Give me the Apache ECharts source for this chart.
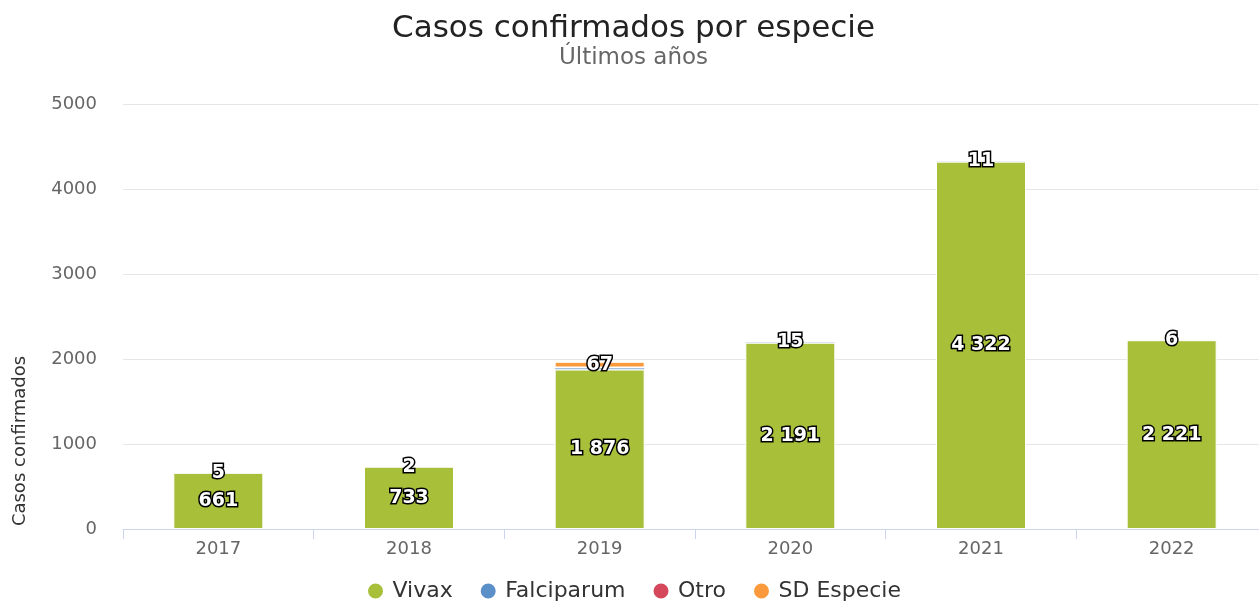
<!DOCTYPE html>
<html>
<head>
<meta charset="utf-8">
<script src="https://cdn.jsdelivr.net/npm/echarts@6/dist/echarts.min.js"></script>
<style>
html,body{margin:0;padding:0;background:#fff;overflow:hidden;}
#chart{width:1267px;height:604px;}
</style>
</head>
<body>
<div id="chart"></div>
<script>
const categories = ['2017', '2018', '2019', '2020', '2021', '2022'];
const vivax = [661, 733, 1876, 2191, 4322, 2221];
const falciparum = [5, 2, 20, 15, 11, 6];
const otro = [0, 0, 4, 0, 0, 0];
const sdEspecie = [0, 0, 67, 0, 0, 0];
const yTicks = [0, 1000, 2000, 3000, 4000, 5000];

const FONT = 'DejaVu Sans';
function fmt(v) {
  return String(v).replace(/\B(?=(\d{3})+(?!\d))/g, ' ');
}
const labelBase = {
  show: true,
  position: 'inside',
  color: '#fff',
  fontFamily: FONT,
  fontWeight: 'bold',
  fontSize: 19,
  textBorderColor: '#000',
  textBorderWidth: 3
};
const chart = echarts.init(document.getElementById('chart'), null, {renderer: 'canvas'});
chart.setOption({
  animation: false,
  textStyle: {fontFamily: FONT},
  title: {
    text: 'Casos confirmados por especie',
    subtext: 'Últimos años',
    left: 'center',
    top: 8,
    itemGap: 3,
    textStyle: {fontFamily: FONT, fontSize: 31, fontWeight: 'normal', color: '#222'},
    subtextStyle: {fontFamily: FONT, fontSize: 23, color: '#666'}
  },
  legend: {
    top: 575,
    left: 'center',
    icon: 'circle',
    itemWidth: 24,
    itemHeight: 17,
    itemGap: 26,
    textStyle: {fontFamily: FONT, fontSize: 22, color: '#333'},
    data: ['Vivax', 'Falciparum', 'Otro', 'SD Especie']
  },
  grid: {left: 123, right: 0, top: 104, bottom: 75},
  xAxis: {
    type: 'category',
    data: categories,
    axisLine: {lineStyle: {color: '#ccd6eb'}},
    axisTick: {show: true, length: 10, lineStyle: {color: '#ccd6eb'}},
    axisLabel: {color: '#666', fontSize: 18, margin: 11, fontFamily: FONT}
  },
  yAxis: {
    type: 'value',
    min: yTicks[0],
    max: yTicks[yTicks.length - 1],
    interval: 1000,
    axisLine: {show: false},
    axisTick: {show: false},
    splitLine: {lineStyle: {color: '#e6e6e6'}},
    axisLabel: {color: '#666', fontSize: 18, margin: 26, fontFamily: FONT, formatter: v => String(v)}
  },
  graphic: [{
    type: 'text',
    x: 20,
    y: 441,
    rotation: Math.PI / 2,
    style: {
      text: 'Casos confirmados',
      fontFamily: FONT,
      fontSize: 18,
      fill: '#333',
      textAlign: 'center',
      textVerticalAlign: 'middle'
    }
  }],
  series: [
    {
      name: 'Vivax', type: 'bar', stack: 'total', barWidth: 90,
      data: vivax,
      itemStyle: {color: '#a8bf3a', borderColor: '#fff', borderWidth: 1},
      label: Object.assign({}, labelBase, {formatter: p => fmt(p.value)})
    },
    {
      name: 'Falciparum', type: 'bar', stack: 'total', barWidth: 90,
      data: falciparum,
      itemStyle: {color: '#5a8fc8', borderColor: '#fff', borderWidth: 0.5},
      label: Object.assign({}, labelBase, {
        formatter: p => (p.value > 0 && sdEspecie[p.dataIndex] === 0 && otro[p.dataIndex] === 0) ? fmt(p.value) : ''
      })
    },
    {
      name: 'Otro', type: 'bar', stack: 'total', barWidth: 90,
      data: otro,
      itemStyle: {color: '#d5485b', borderColor: '#fff', borderWidth: 0.5},
      label: Object.assign({}, labelBase, {formatter: () => ''})
    },
    {
      name: 'SD Especie', type: 'bar', stack: 'total', barWidth: 90,
      data: sdEspecie,
      itemStyle: {color: '#fb9a3c', borderColor: '#fff', borderWidth: 1},
      label: Object.assign({}, labelBase, {formatter: p => p.value > 0 ? fmt(p.value) : ''})
    }
  ]
});
</script>
</body>
</html>
